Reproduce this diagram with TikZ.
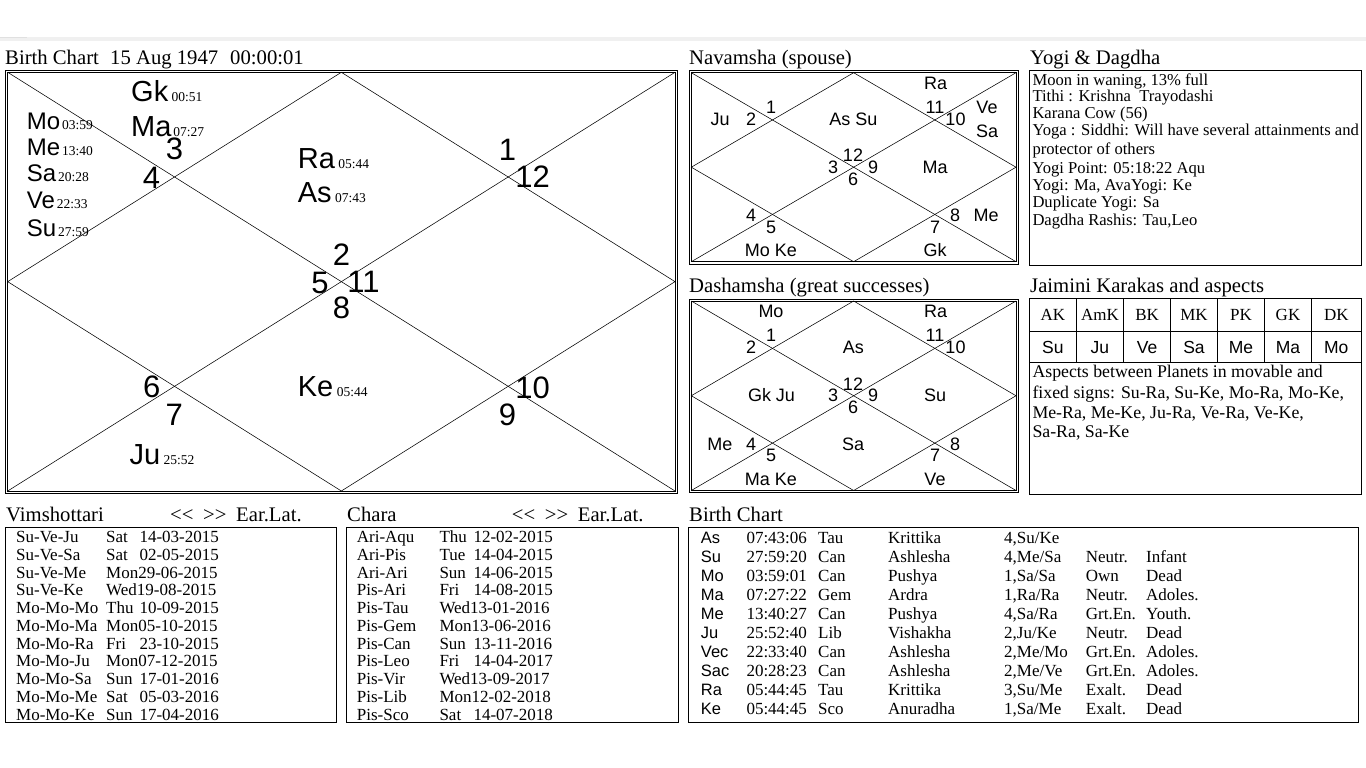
\documentclass[tikz,border=0pt]{standalone}
\usepackage{fontspec}
\setmainfont{Liberation Serif}
\setsansfont{Liberation Sans}
\newcommand\drow[8]{% prefix, index, x1, x2, x3, name, day, date
  \pgfmathsetmacro\yy{542.5+17.75*(#2-1)}
  \node[tx] (#1#2a) at (#3,\yy) {#6};
  \node[tx] (#1#2b) at (#4,\yy) {#7};
  \node[tx] (#1#2c) at (#5,\yy) {#8};
}
\newcommand\brow[8]{% index, planet, time, sign, nakshatra, pada, status, age
  \pgfmathsetmacro\yy{543.3+19*(#1-1)}
  \node[tsans] (b#1a) at (700.7,\yy) {#2};
  \node[tx] (b#1b) at (746.3,\yy) {#3};
  \node[tx] (b#1c) at (818,\yy) {#4};
  \node[tx] (b#1d) at (888,\yy) {#5};
  \node[tx] (b#1e) at (1004,\yy) {#6};
  \node[tx] (b#1f) at (1085.7,\yy) {#7};
  \node[tx] (b#1g) at (1146,\yy) {#8};
}
\begin{document}
\begin{tikzpicture}[x=1pt,y=-1pt,
  fr/.style={line width=0.8pt},
  ln/.style={line width=0.55pt},
  tx/.style={inner sep=0pt,anchor=base west,font=\fontsize{17}{17}\selectfont},
  tsans/.style={inner sep=0pt,anchor=base west,font=\sffamily\fontsize{16.5}{16.5}\selectfont},
  ttl/.style={inner sep=0pt,anchor=base west,font=\fontsize{20.7}{20.7}\selectfont},
  ys/.style={inner sep=0pt,anchor=base west,font=\fontsize{16.6}{16.6}\selectfont},
  asp/.style={inner sep=0pt,anchor=base west,font=\fontsize{17.8}{17.8}\selectfont},
  num/.style={inner sep=0pt,anchor=base,font=\sffamily\fontsize{31}{31}\selectfont},
  pl/.style={inner sep=0pt,anchor=base west,font=\sffamily\fontsize{29}{29}\selectfont},
  pls/.style={inner sep=0pt,anchor=base west,font=\sffamily\fontsize{24}{24}\selectfont},
  dg/.style={inner sep=0pt,anchor=base west,font=\fontsize{13.5}{13.5}\selectfont},
  sm/.style={inner sep=0pt,anchor=base,font=\sffamily\fontsize{18}{18}\selectfont},
  hd/.style={inner sep=0pt,anchor=base,font=\fontsize{17}{17}\selectfont},
  hs/.style={inner sep=0pt,anchor=base,font=\sffamily\fontsize{17.5}{17.5}\selectfont}]
\useasboundingbox (0,0) rectangle (1366,768);
\fill[white] (0,0) rectangle (1366,768);
\fill[black!6] (0,36.7) rectangle (1366,40.7);
\fill[black!12] (0,36.7) rectangle (27,38.2);

% ---------------- main birth chart
\node[ttl] (t1) at (5,65) {Birth Chart};
\node[ttl] (t1b) at (110,65) {15 Aug 1947};
\node[ttl] (t1c) at (230,65) {00:00:01};
\draw[fr] (5,70) rectangle (677.7,493.3);
\coordinate (mA) at (7.7,72.3);
\coordinate (mB) at (675,72.3);
\coordinate (mC) at (675,491);
\coordinate (mD) at (7.7,491);
\coordinate (mT) at (341.35,72.3);
\coordinate (mR) at (675,281.65);
\coordinate (mBo) at (341.35,491);
\coordinate (mL) at (7.7,281.65);
\draw[fr] (mA) rectangle (mC);
\draw[ln] (mA) -- (mC);
\draw[ln] (mB) -- (mD);
\draw[ln] (mT) -- (mR) -- (mBo) -- (mL) -- cycle;

\node[num] (n3) at (174.5,159.8) {3};
\node[num] (n4) at (151.5,188.3) {4};
\node[num] (n1) at (507.5,160) {1};
\node[num] (n12) at (532.5,187.7) {12};
\node[num] (n2) at (341.5,265.5) {2};
\node[num] (n5) at (320,293.3) {5};
\node[num] (n11) at (363.5,292.7) {11};
\node[num] (n8) at (341.5,318.3) {8};
\node[num] (n6) at (151.7,397.7) {6};
\node[num] (n7) at (174.3,425) {7};
\node[num] (n10) at (532.5,398.3) {10};
\node[num] (n9) at (507.5,425) {9};

\node[pl] (gk) at (131,101.7) {Gk};
\node[dg] (gkd) at ([xshift=3pt]gk.base east) {00:51};
\node[pl] (ma) at (131,136.2) {Ma};
\node[dg] (mad) at ([xshift=1.5pt]ma.base east) {07:27};
\node[pls] (mo) at (26.7,129.3) {Mo};
\node[dg] (mod) at ([xshift=1.5pt]mo.base east) {03:59};
\node[pls] (me) at (26.7,155.7) {Me};
\node[dg] (med) at ([xshift=1.5pt]me.base east) {13:40};
\node[pls] (sa) at (26.7,181.7) {Sa};
\node[dg] (sad) at ([xshift=1.5pt]sa.base east) {20:28};
\node[pls] (ve) at (26.7,208.3) {Ve};
\node[dg] (ved) at ([xshift=1.5pt]ve.base east) {22:33};
\node[pls] (su) at (26.7,236) {Su};
\node[dg] (sud) at ([xshift=1.5pt]su.base east) {27:59};
\node[pl] (ra) at (297.7,168.3) {Ra};
\node[dg] (rad) at ([xshift=3pt]ra.base east) {05:44};
\node[pl] (as) at (297.7,202.7) {As};
\node[dg] (asd) at ([xshift=3pt]as.base east) {07:43};
\node[pl] (ke) at (297.7,396.7) {Ke};
\node[dg] (ked) at ([xshift=3pt]ke.base east) {05:44};
\node[pl] (ju) at (129.3,464) {Ju};
\node[dg] (jud) at ([xshift=3pt]ju.base east) {25:52};

% ---------------- Navamsha
\node[ttl] (t2) at (689,65) {Navamsha (spouse)};
\begin{scope}
\draw[fr] (689,70.7) rectangle (1018.3,264);
\coordinate (nA) at (691.3,72.7);
\coordinate (nB) at (1016,72.7);
\coordinate (nC) at (1016,261.7);
\coordinate (nD) at (691.3,261.7);
\coordinate (nT) at (853.65,72.7);
\coordinate (nR) at (1016,167.2);
\coordinate (nBo) at (853.65,261.7);
\coordinate (nL) at (691.3,167.2);
\draw[fr] (nA) rectangle (nC);
\draw[ln] (nA) -- (nC);
\draw[ln] (nB) -- (nD);
\draw[ln] (nT) -- (nR) -- (nBo) -- (nL) -- cycle;
\end{scope}
\node[sm] (na1) at (935.7,89.3) {Ra};
\node[sm] (na2) at (720,125) {Ju};
\node[sm] (na3) at (751,125) {2};
\node[sm] (na4) at (771,113.3) {1};
\node[sm] (na5) at (853.3,125) {As Su};
\node[sm] (na6) at (935,113.3) {11};
\node[sm] (na7) at (955.5,125) {10};
\node[sm] (na8) at (987,113.3) {Ve};
\node[sm] (na9) at (987,137.3) {Sa};
\node[sm] (na10) at (853,161.7) {12};
\node[sm] (na11) at (833,173.3) {3};
\node[sm] (na12) at (873,173.3) {9};
\node[sm] (na13) at (853,185) {6};
\node[sm] (na14) at (935,173.3) {Ma};
\node[sm] (na15) at (751,221.7) {4};
\node[sm] (na16) at (771,233.3) {5};
\node[sm] (na17) at (771,256.7) {Mo Ke};
\node[sm] (na18) at (955,221.7) {8};
\node[sm] (na19) at (986,221.7) {Me};
\node[sm] (na20) at (935,233.3) {7};
\node[sm] (na21) at (935,256.7) {Gk};

% ---------------- Dashamsha
\node[ttl] (t3) at (689,292.7) {Dashamsha (great successes)};
\begin{scope}[shift={(0,228.3)}]
\draw[fr] (689,70.7) rectangle (1018.3,264.5);
\coordinate (dA) at (691.3,72.7);
\coordinate (dB) at (1016,72.7);
\coordinate (dC) at (1016,262.2);
\coordinate (dD) at (691.3,262.2);
\coordinate (dT) at (853.65,72.7);
\coordinate (dR) at (1016,167.45);
\coordinate (dBo) at (853.65,262.2);
\coordinate (dL) at (691.3,167.45);
\draw[fr] (dA) rectangle (dC);
\draw[ln] (dA) -- (dC);
\draw[ln] (dB) -- (dD);
\draw[ln] (dT) -- (dR) -- (dBo) -- (dL) -- cycle;
\node[sm] (da1) at (771,89.3) {Mo};
\node[sm] (da2) at (935.7,89.3) {Ra};
\node[sm] (da3) at (771,113.3) {1};
\node[sm] (da4) at (751,125) {2};
\node[sm] (da5) at (853.3,125) {As};
\node[sm] (da6) at (935,113.3) {11};
\node[sm] (da7) at (955.5,125) {10};
\node[sm] (da8) at (771.5,173.3) {Gk Ju};
\node[sm] (da9) at (853,161.7) {12};
\node[sm] (da10) at (833,173.3) {3};
\node[sm] (da11) at (873,173.3) {9};
\node[sm] (da12) at (853,185) {6};
\node[sm] (da13) at (935,173.3) {Su};
\node[sm] (da14) at (719.8,221.7) {Me};
\node[sm] (da15) at (751,221.7) {4};
\node[sm] (da16) at (853,221.7) {Sa};
\node[sm] (da17) at (955,221.7) {8};
\node[sm] (da18) at (771,233.3) {5};
\node[sm] (da19) at (935,233.3) {7};
\node[sm] (da20) at (771,257.2) {Ma Ke};
\node[sm] (da21) at (935,257.2) {Ve};
\end{scope}

% ---------------- Yogi & Dagdha
\node[ttl] (t4) at (1030,65) {Yogi \& Dagdha};
\draw[fr] (1029.7,70.7) rectangle (1361.3,265);
\node[ys] (y1) at (1032.3,85) {Moon in waning, 13\% full};
\node[ys] (y2) at (1032.3,101.7) {Tithi : Krishna\ \ Trayodashi};
\node[ys] (y3) at (1032.3,118.3) {Karana Cow (56)};
\node[ys] (y4) at (1032.3,135) {Yoga : Siddhi: Will have several attainments and};
\node[ys] (y5) at (1032.3,154.3) {protector of others};
\node[ys] (y6) at (1032.3,173.3) {Yogi Point: 05:18:22 Aqu};
\node[ys] (y7) at (1032.3,190) {Yogi: Ma, AvaYogi: Ke};
\node[ys] (y8) at (1032.3,207.3) {Duplicate Yogi: Sa};
\node[ys] (y9) at (1032.3,225) {Dagdha Rashis: Tau,Leo};

% ---------------- Jaimini
\node[ttl] (t5) at (1030,292.7) {Jaimini Karakas and aspects};
\draw[fr] (1029.7,298.3) rectangle (1361.3,494.3);
\draw[fr] (1029.7,331) -- (1361.3,331);
\draw[fr] (1029.7,362.3) -- (1361.3,362.3);
\foreach \xx in {1076,1123.7,1170.7,1217.3,1264.7,1311.3}
  \draw[fr] (\xx,298.3) -- (\xx,362.3);
\foreach \xx/\h/\p [count=\i] in {1052.9/AK/Su,1099.9/AmK/Ju,1147.2/BK/Ve,1194/MK/Sa,1241/PK/Me,1288/GK/Ma,1336.3/DK/Mo}{
  \node[hd] (jh\i) at (\xx,320) {\h};
  \node[hs] (jp\i) at (\xx,353.3) {\p};
}
\node[asp] (a1) at (1032.3,377.7) {Aspects between Planets in movable and};
\node[asp] (a2) at (1032.3,398.3) {fixed signs: Su-Ra, Su-Ke, Mo-Ra, Mo-Ke,};
\node[asp] (a3) at (1032.3,418.3) {Me-Ra, Me-Ke, Ju-Ra, Ve-Ra, Ve-Ke,};
\node[asp] (a4) at (1032.3,437.7) {Sa-Ra, Sa-Ke};

% ---------------- Vimshottari
\node[ttl] (t6) at (6,521.7) {Vimshottari};
\node[ttl] (t6b) at (170,521.7) {<\kern0pt<};
\node[ttl] (t6c) at (203,521.7) {>\kern0pt>};
\node[ttl] (t6d) at (236,521.7) {Ear.Lat.};
\draw[fr] (5.5,527.3) rectangle (336.7,722.7);
\drow{v}{1}{16}{106}{139.3}{Su-Ve-Ju}{Sat}{14-03-2015}
\drow{v}{2}{16}{106}{139.3}{Su-Ve-Sa}{Sat}{02-05-2015}
\drow{v}{3}{16}{106}{139.3}{Su-Ve-Me}{Mon29-06-2015}{}
\drow{v}{4}{16}{106}{139.3}{Su-Ve-Ke}{Wed19-08-2015}{}
\drow{v}{5}{16}{106}{139.3}{Mo-Mo-Mo}{Thu}{10-09-2015}
\drow{v}{6}{16}{106}{139.3}{Mo-Mo-Ma}{Mon05-10-2015}{}
\drow{v}{7}{16}{106}{139.3}{Mo-Mo-Ra}{Fri}{23-10-2015}
\drow{v}{8}{16}{106}{139.3}{Mo-Mo-Ju}{Mon07-12-2015}{}
\drow{v}{9}{16}{106}{139.3}{Mo-Mo-Sa}{Sun}{17-01-2016}
\drow{v}{10}{16}{106}{139.3}{Mo-Mo-Me}{Sat}{05-03-2016}
\drow{v}{11}{16}{106}{139.3}{Mo-Mo-Ke}{Sun}{17-04-2016}

% ---------------- Chara
\node[ttl] (t7) at (347,521.7) {Chara};
\node[ttl] (t7b) at (511.7,521.7) {<\kern0pt<};
\node[ttl] (t7c) at (544.7,521.7) {>\kern0pt>};
\node[ttl] (t7d) at (577.7,521.7) {Ear.Lat.};
\draw[fr] (346.7,527.3) rectangle (678.5,722.7);
\drow{c}{1}{356.7}{439.3}{473.3}{Ari-Aqu}{Thu}{12-02-2015}
\drow{c}{2}{356.7}{439.3}{473.3}{Ari-Pis}{Tue}{14-04-2015}
\drow{c}{3}{356.7}{439.3}{473.3}{Ari-Ari}{Sun}{14-06-2015}
\drow{c}{4}{356.7}{439.3}{473.3}{Pis-Ari}{Fri}{14-08-2015}
\drow{c}{5}{356.7}{439.3}{473.3}{Pis-Tau}{Wed13-01-2016}{}
\drow{c}{6}{356.7}{439.3}{473.3}{Pis-Gem}{Mon13-06-2016}{}
\drow{c}{7}{356.7}{439.3}{473.3}{Pis-Can}{Sun}{13-11-2016}
\drow{c}{8}{356.7}{439.3}{473.3}{Pis-Leo}{Fri}{14-04-2017}
\drow{c}{9}{356.7}{439.3}{473.3}{Pis-Vir}{Wed13-09-2017}{}
\drow{c}{10}{356.7}{439.3}{473.3}{Pis-Lib}{Mon12-02-2018}{}
\drow{c}{11}{356.7}{439.3}{473.3}{Pis-Sco}{Sat}{14-07-2018}

% ---------------- Birth chart table
\node[ttl] (t8) at (689,521.7) {Birth Chart};
\draw[fr] (688,527.3) rectangle (1358,722.7);
\brow{1}{As}{07:43:06}{Tau}{Krittika}{4,Su/Ke}{}{}
\brow{2}{Su}{27:59:20}{Can}{Ashlesha}{4,Me/Sa}{Neutr.}{Infant}
\brow{3}{Mo}{03:59:01}{Can}{Pushya}{1,Sa/Sa}{Own}{Dead}
\brow{4}{Ma}{07:27:22}{Gem}{Ardra}{1,Ra/Ra}{Neutr.}{Adoles.}
\brow{5}{Me}{13:40:27}{Can}{Pushya}{4,Sa/Ra}{Grt.En.}{Youth.}
\brow{6}{Ju}{25:52:40}{Lib}{Vishakha}{2,Ju/Ke}{Neutr.}{Dead}
\brow{7}{Vec}{22:33:40}{Can}{Ashlesha}{2,Me/Mo}{Grt.En.}{Adoles.}
\brow{8}{Sac}{20:28:23}{Can}{Ashlesha}{2,Me/Ve}{Grt.En.}{Adoles.}
\brow{9}{Ra}{05:44:45}{Tau}{Krittika}{3,Su/Me}{Exalt.}{Dead}
\brow{10}{Ke}{05:44:45}{Sco}{Anuradha}{1,Sa/Me}{Exalt.}{Dead}
\end{tikzpicture}
\end{document}
